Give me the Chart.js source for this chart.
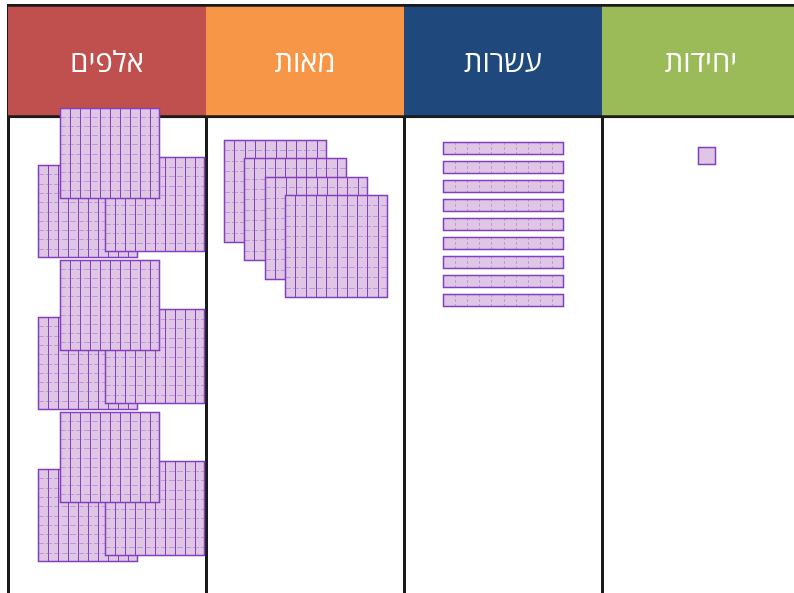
<!DOCTYPE html>
<html lang="he">
<head>
<meta charset="utf-8">
<script src="https://cdn.jsdelivr.net/npm/chart.js@4"></script>
<style>
  html, body { margin: 0; padding: 0; background: #fff; overflow: hidden; }
  #wrap { position: relative; width: 802px; height: 593px; }
</style>
</head>
<body>
<div id="wrap"><canvas id="chart"></canvas></div>
<script>
// place-value columns, left to right as they appear
const places = ["אלפים", "מאות", "עשרות", "יחידות"];
const headerColors = ["#C0504D", "#F79646", "#1F497D", "#9BBB59"];
// how many base-ten blocks sit in each column
const blockCounts = [9, 4, 9, 1];
const headerSpan = [4, 118];

const COL = 198; // layout units per column on the x2 scale
const FILL = "#DFC6E5";
const EDGE = "#8240BE";
const FAINT = "rgba(150, 95, 200, 0.45)";

function blockLayout() {
  const out = [];
  // thousands: cubes in groups of three (back-left, back-right, front)
  const cubeSpots = [[30, 165, 93], [97, 157, 95], [52, 108, 91]];
  for (let i = 0; i < blockCounts[0]; i++) {
    const g = Math.floor(i / 3), s = cubeSpots[i % 3];
    out.push({ col: 0, x: s[0], y: s[1] + g * 152, w: 100, h: s[2], nx: 10, ny: 10 });
  }
  // hundreds: fanned flats
  for (let i = 0; i < blockCounts[1]; i++)
    out.push({ col: 1, x: 18 + i * 20.3, y: 140 + i * 18.4, w: 103, h: 103, nx: 10, ny: 10 });
  // tens: stacked rods
  for (let i = 0; i < blockCounts[2]; i++)
    out.push({ col: 2, x: 39, y: 142 + i * 19, w: 121, h: 13, nx: 10, ny: 1 });
  // ones
  for (let i = 0; i < blockCounts[3]; i++)
    out.push({ col: 3, x: 96, y: 147, w: 18, h: 18, nx: 1, ny: 1 });
  return out;
}

function drawBlock(ctx, b, xs, ys) {
  const L = Math.round(xs.getPixelForValue(b.col + b.x / COL));
  const R = Math.round(xs.getPixelForValue(b.col + (b.x + b.w) / COL));
  const T = Math.round(ys.getPixelForValue(b.y));
  const B = Math.round(ys.getPixelForValue(b.y + b.h));
  ctx.fillStyle = FILL;
  ctx.fillRect(L, T, R - L, B - T);

  ctx.lineWidth = 1;
  const rod = b.ny === 1 && b.nx > 1;
  // vertical cell lines
  ctx.strokeStyle = rod ? FAINT : EDGE;
  ctx.setLineDash(rod ? [3, 2] : []);
  for (let i = 1; i < b.nx; i++) {
    const x = Math.round(L + (R - L) * i / b.nx) + 0.5;
    ctx.beginPath(); ctx.moveTo(x, T); ctx.lineTo(x, B); ctx.stroke();
  }
  // horizontal cell lines
  ctx.strokeStyle = FAINT;
  ctx.setLineDash([6, 2]);
  for (let j = 1; j < b.ny; j++) {
    const y = Math.round(T + (B - T) * j / b.ny) + 0.5;
    ctx.beginPath(); ctx.moveTo(L, y); ctx.lineTo(R, y); ctx.stroke();
  }
  ctx.setLineDash([]);
  ctx.strokeStyle = EDGE;
  ctx.lineWidth = 1.5;
  ctx.strokeRect(L + 0.5, T + 0.5, R - L - 1, B - T - 1);
}

const blocksPlugin = {
  id: "blocks",
  afterDatasetsDraw(chart) {
    const ctx = chart.ctx;
    ctx.save();
    blockLayout().forEach((b) => drawBlock(ctx, b, chart.scales.x2, chart.scales.y));
    ctx.restore();
  },
};

const headerTextPlugin = {
  id: "headerText",
  afterDatasetsDraw(chart) {
    const ctx = chart.ctx;
    const bars = chart.getDatasetMeta(0).data;
    ctx.save();
    ctx.fillStyle = "#fff";
    ctx.font = '29px "Open Sans", "DejaVu Sans", sans-serif';
    ctx.textAlign = "center";
    ctx.textBaseline = "middle";
    bars.forEach((bar, i) => {
      ctx.fillText(places[i], bar.x, (bar.y + bar.base) / 2 + 3);
    });
    ctx.restore();
  },
};

new Chart(document.getElementById("chart"), {
  type: "bar",
  data: {
    labels: places,
    datasets: [
      {
        data: places.map(() => headerSpan),
        backgroundColor: headerColors,
        borderColor: "#1a1a1a",
        borderWidth: { top: 3, bottom: 3, left: 0, right: 0 },
        borderSkipped: false,
        barPercentage: 1,
        categoryPercentage: 1,
      },
    ],
  },
  options: {
    responsive: true,
    maintainAspectRatio: false,
    animation: false,
    layout: { padding: { left: 8, right: 2, top: 4, bottom: 0 } },
    plugins: { legend: { display: false }, tooltip: { enabled: false } },
    scales: {
      x: {
        z: 1,
        grid: { color: "#1a1a1a", lineWidth: 3, drawTicks: false, offset: true },
        border: { display: false },
        ticks: { display: false },
      },
      x2: { type: "linear", min: 0, max: 4, offset: false, display: false },
      y: { reverse: true, min: 4, max: 593, display: false },
    },
  },
  plugins: [blocksPlugin, headerTextPlugin],
});
</script>
</body>
</html>
